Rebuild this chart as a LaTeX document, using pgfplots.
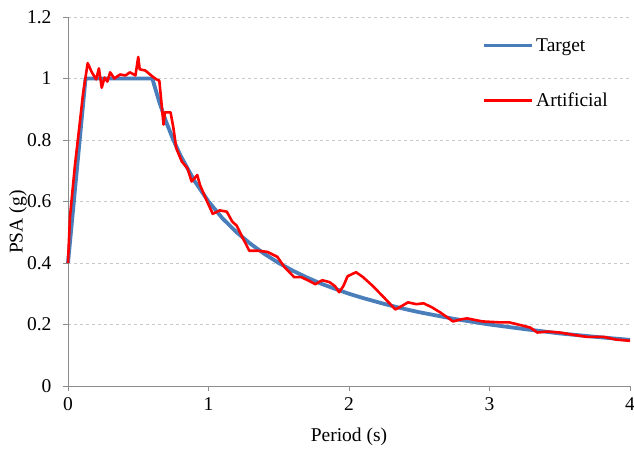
\documentclass[border=0pt]{standalone}
\usepackage{fontspec}
\setmainfont{Liberation Serif}
\usepackage{pgfplots}
\pgfplotsset{compat=1.18}
\definecolor{tblue}{HTML}{4A7EBB}
\definecolor{axgray}{HTML}{8C8C8C}
\definecolor{gridgray}{HTML}{C8C8C8}
\begin{document}
\begin{tikzpicture}
\begin{axis}[
  scale only axis,
  width=562pt, height=369pt,
  xmin=0, xmax=4, ymin=0, ymax=1.2,
  xtick={0,1,2,3,4},
  ytick={0,0.2,0.4,0.6,0.8,1,1.2},
  yticklabels={0,0.2,0.4,0.6,0.8,1,1.2},
  axis x line*=bottom, axis y line*=left,
  axis line style={axgray, line width=0.8pt, -},
  tick style={axgray, line width=0.8pt},
  tick align=outside, major tick length=5pt,
  ymajorgrids, grid style={gridgray, dashed, line width=0.6pt},
  every tick label/.append style={font=\fontsize{19.5}{22}\selectfont, text=black},
  /pgf/number format/assume math mode=true,
  xticklabel style={yshift=-3pt},
  yticklabel style={xshift=-8pt},
  xlabel={Period (s)}, ylabel={PSA (g)},
  label style={font=\fontsize{19.5}{22}\selectfont},
  xlabel style={at={(axis description cs:0.5,-0.138)}, anchor=center},
  ylabel style={at={(axis description cs:-0.089,0.444)}, anchor=center, rotate=0},
  legend style={draw=none, fill=none, at={(rel axis cs:0.737,0.948)}, anchor=north west,
    font=\fontsize{19.5}{22}\selectfont, row sep=36pt, inner sep=0pt},
  legend cell align=left,
  legend image code/.code={\draw[#1] (0pt,0pt) -- (48pt,0pt);},
  clip=false,
]
\addplot[tblue, line width=3.8pt, line join=round] coordinates {
(0,0.4) (0.125,1.0) (0.6,1.0) (0.65,0.923) (0.7,0.857) (0.75,0.8) (0.8,0.75)
(0.9,0.667) (1.0,0.6) (1.1,0.545) (1.2,0.5) (1.3,0.462) (1.4,0.429) (1.5,0.4)
(1.6,0.375) (1.7,0.353) (1.8,0.333) (1.9,0.316) (2.0,0.3) (2.1,0.286) (2.25,0.267)
(2.4,0.25) (2.5,0.24) (2.75,0.218) (3.0,0.2) (3.25,0.185) (3.5,0.171) (3.75,0.16) (4.0,0.15)
};
\addlegendentry{Target}
\addplot[red, line width=2.6pt, line join=round] coordinates {
(0,0.40) (0.014,0.55) (0.05,0.72) (0.085,0.86) (0.107,0.95) (0.14,1.05) (0.17,1.02)
(0.2,0.997) (0.22,1.033) (0.24,0.97) (0.26,1.003) (0.28,0.99) (0.3,1.02) (0.33,1.0)
(0.37,1.013) (0.41,1.01) (0.44,1.02) (0.48,1.01) (0.5,1.07) (0.51,1.03) (0.55,1.026)
(0.6,1.007) (0.63,0.997) (0.65,0.993) (0.68,0.85) (0.69,0.89) (0.73,0.89) (0.75,0.84)
(0.77,0.774) (0.81,0.73) (0.85,0.708) (0.88,0.665) (0.92,0.686) (0.94,0.653) (0.99,0.60)
(1.03,0.56) (1.08,0.571) (1.13,0.567) (1.17,0.534) (1.2,0.522) (1.24,0.485) (1.29,0.44)
(1.35,0.44) (1.42,0.436) (1.49,0.42) (1.54,0.387) (1.61,0.354) (1.66,0.354) (1.72,0.341)
(1.76,0.331) (1.81,0.344) (1.86,0.338) (1.9,0.325) (1.93,0.305) (1.96,0.325) (1.99,0.357)
(2.05,0.37) (2.1,0.354) (2.17,0.325) (2.24,0.292) (2.33,0.249) (2.36,0.256) (2.42,0.272)
(2.48,0.266) (2.53,0.269) (2.59,0.256) (2.65,0.239) (2.71,0.22) (2.74,0.21) (2.79,0.216)
(2.84,0.22) (2.95,0.21) (3.07,0.207) (3.14,0.207) (3.23,0.197) (3.29,0.19) (3.34,0.174)
(3.41,0.177) (3.5,0.174) (3.59,0.167) (3.69,0.16) (3.81,0.16) (3.9,0.151) (4.0,0.147)
};
\addlegendentry{Artificial}
\end{axis}
\pgfresetboundingbox
\useasboundingbox (-68pt,-64pt) rectangle (566pt,386pt);
\end{tikzpicture}
\end{document}
